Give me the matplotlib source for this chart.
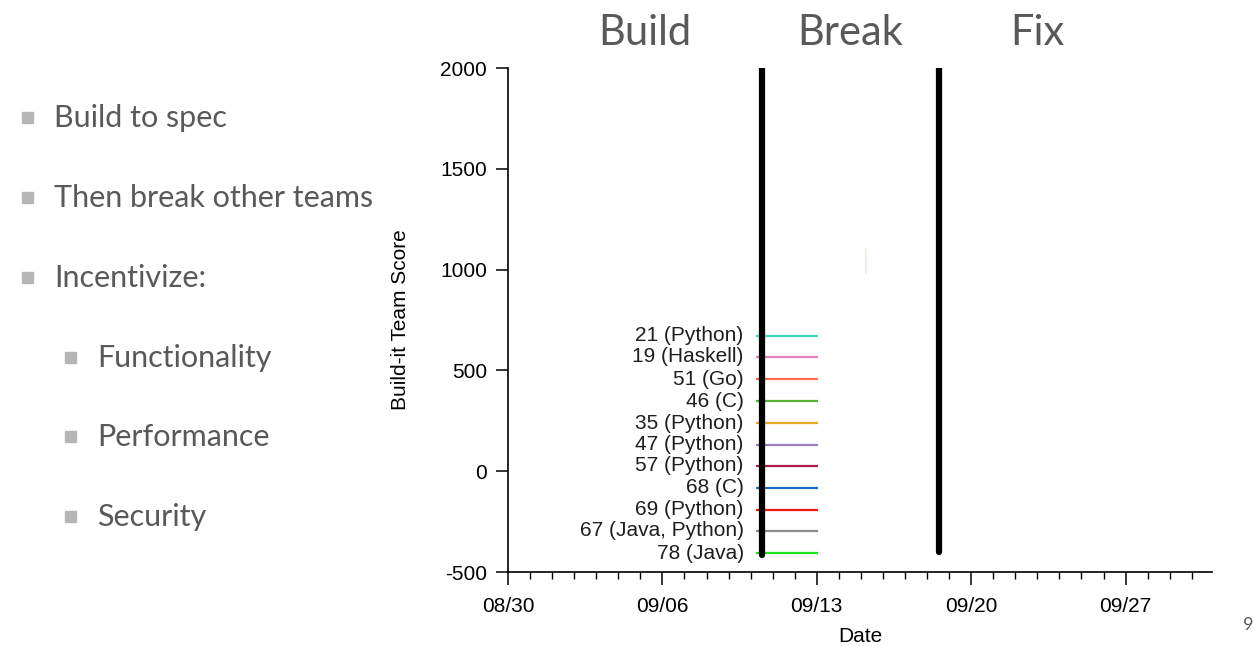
import matplotlib
matplotlib.use("Agg")
import matplotlib.pyplot as plt
import matplotlib.dates as mdates
from datetime import datetime

plt.rcParams["axes.unicode_minus"] = False

# ---- data ----
team_labels = ["21 (Python)", "19 (Haskell)", "51 (Go)", "46 (C)", "35 (Python)",
               "47 (Python)", "57 (Python)", "68 (C)", "69 (Python)",
               "67 (Java, Python)", "78 (Java)"]
team_scores = [671, 567, 457, 348, 239, 130, 26, -83, -192, -296, -406]
team_colors = ["#38dcc0", "#e97fb8", "#ff6f4f", "#5ab03a", "#e6ac28",
               "#9a80c0", "#b3174f", "#1f6ec6", "#ee1a10", "#8c8c8c", "#1fe01f"]
score_start = datetime(2015, 9, 10, 6)
score_end = datetime(2015, 9, 13, 1)

phase_names = ["Build", "Break", "Fix"]
phase_bounds = [datetime(2015, 9, 10, 12), datetime(2015, 9, 18, 13)]
phase_bound_low = [-415, -400]
phase_bound_high = [2000, 2000]

faint_date = datetime(2015, 9, 15, 5)
faint_range = [983, 1097]

x_ticks = [datetime(2015, 8, 30), datetime(2015, 9, 6), datetime(2015, 9, 13),
           datetime(2015, 9, 20), datetime(2015, 9, 27)]
x_min = datetime(2015, 8, 30)
x_max = datetime(2015, 9, 30, 22)
y_ticks = [-500, 0, 500, 1000, 1500, 2000]

bullets = ["Build to spec", "Then break other teams", "Incentivize:"]
sub_bullets = ["Functionality", "Performance", "Security"]

# ---- figure ----
W, H = 1253, 646
fig = plt.figure(figsize=(W / 100, H / 100), dpi=100)
ax = fig.add_axes([508 / W, 1 - 572 / H, (1212 - 508) / W, (572 - 68) / H])

chart_font = "Liberation Sans"
slide_font = "Lato"
fs = 15

for lab, s, c in zip(team_labels, team_scores, team_colors):
    ax.plot([score_start, score_end], [s, s], color=c, lw=1.6, solid_capstyle="butt", zorder=2)
    ax.annotate(lab, xy=(score_start, s), xytext=(-9, 0), textcoords="offset points",
                ha="right", va="center", fontsize=fs, family=chart_font, color="#1e1e1e")

for d, lo, hi in zip(phase_bounds, phase_bound_low, phase_bound_high):
    ax.plot([d, d], [lo, hi], color="black", lw=4.5, solid_capstyle="round", zorder=3)

ax.plot([faint_date, faint_date], faint_range, color="#dff3df", lw=1.2, zorder=1)

ax.set_xlim(x_min, x_max)
ax.set_ylim(-500, 2000)
ax.set_xticks(x_ticks)
ax.xaxis.set_major_formatter(mdates.DateFormatter("%m/%d"))
ax.xaxis.set_minor_locator(mdates.DayLocator())
ax.set_yticks(y_ticks)
for sp in ["top", "right"]:
    ax.spines[sp].set_visible(False)
for sp in ["left", "bottom"]:
    ax.spines[sp].set_linewidth(1.2)
ax.tick_params(axis="both", which="major", length=9, width=1.1, direction="out",
               labelsize=fs, pad=6)
ax.tick_params(axis="x", which="major", pad=9)
ax.tick_params(axis="x", which="minor", length=5, width=1.0, direction="out")
for t in ax.get_xticklabels() + ax.get_yticklabels():
    t.set_family(chart_font)
ax.set_xlabel("Date", fontsize=fs, family=chart_font, labelpad=8)
ax.set_ylabel("Build-it Team Score", fontsize=fs, family=chart_font, labelpad=22)

# phase headings
head_x = [645, 850, 1037]
for name, hx in zip(phase_names, head_x):
    fig.text(hx / W, 1 - 33 / H, name, ha="center", va="center", fontsize=30,
             family=slide_font, color="#595959")

# bullets on the left
bullet_y = [118, 198, 278]
for txt, by in zip(bullets, bullet_y):
    fig.text(54 / W, 1 - by / H, txt, ha="left", va="center", fontsize=22,
             family=slide_font, color="#595959")
    fig.patches.append(plt.Rectangle((22 / W, 1 - (by + 5) / H), 11 / W, 11 / H,
                                     transform=fig.transFigure, color="#b5b5b5"))
sub_y = [358, 437, 517]
for txt, by in zip(sub_bullets, sub_y):
    fig.text(97 / W, 1 - by / H, txt, ha="left", va="center", fontsize=22,
             family=slide_font, color="#595959")
    fig.patches.append(plt.Rectangle((65 / W, 1 - (by + 5) / H), 11 / W, 11 / H,
                                     transform=fig.transFigure, color="#b5b5b5"))

fig.text(1243 / W, 1 - 625 / H, "9", ha="left", va="center", fontsize=13,
         family=slide_font, color="#595959")

fig.savefig("out.png", dpi=100)
